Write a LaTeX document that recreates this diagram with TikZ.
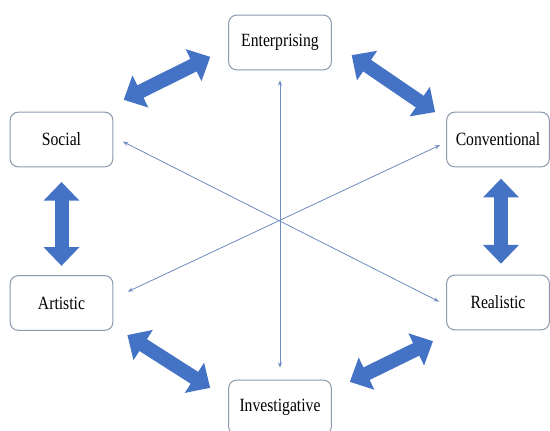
\documentclass[tikz,border=0pt]{standalone}
\usepackage{fontspec}
\setmainfont{Liberation Serif}[FakeStretch=0.84]
\usepackage{xcolor}
\usetikzlibrary{arrows.meta}
\definecolor{bigblue}{RGB}{68,114,196}
\definecolor{thinblue}{RGB}{110,140,190}
\definecolor{boxgray}{RGB}{140,155,175}

\begin{document}
\begin{tikzpicture}[x=0.75pt,y=0.75pt,yscale=-1,xscale=1,
typebox/.style={draw=boxgray,line width=0.75pt,rounded corners=6pt,fill=white,minimum width=77pt,minimum height=41pt,inner sep=0.75pt,font=\fontsize{14}{16}\selectfont},
bigarrow/.style={draw=bigblue,line width=10.5pt,{Triangle[width=26pt,length=14pt]}-{Triangle[width=26pt,length=14pt]}},
thinarrow/.style={draw=thinblue,line width=0.6pt,{Stealth[length=4pt,width=3pt]}-{Stealth[length=4pt,width=3pt]}}]

\fill[white] (0,0) rectangle (550,431);
\useasboundingbox (0,0) rectangle (550,431);


\node[typebox] (ent) at (280,42.5) {Enterprising};

\node[typebox] (soc) at (61.5,139.5) {Social};

\node[typebox] (con) at (498,139.5) {Conventional};

\node[typebox] (art) at (61.5,303) {Artistic};

\node[typebox] (rea) at (498,302.5) {Realistic};

\node[typebox] (inv) at (280,407.5) {Investigative};


\draw[thinarrow,shorten <=7.5pt,shorten >=9pt] (ent.south) -- (inv.north);

\draw[thinarrow,shorten <=8pt,shorten >=6pt] (soc.3) -- (rea.183);

\draw[thinarrow,shorten <=5pt,shorten >=12pt] (con.183) -- (art.5);


\draw[bigarrow,shorten <=20pt,shorten >=15pt] (soc.36) -- (ent.186);

\draw[bigarrow,shorten <=18pt,shorten >=10pt] (ent.1) -- (con.159);

\draw[bigarrow,shorten <=11pt,shorten >=7pt] (soc.south) -- (art.north);

\draw[bigarrow,shorten <=8.5pt,shorten >=8.25pt] ([xshift=2.25pt]con.south) -- ([xshift=2.25pt]rea.north);

\draw[bigarrow,shorten <=12.5pt,shorten >=16pt] (art.336) -- (inv.171);

\draw[bigarrow,shorten <=15pt,shorten >=18.5pt] (inv.18) -- (rea.213);


\end{tikzpicture}
\end{document}
